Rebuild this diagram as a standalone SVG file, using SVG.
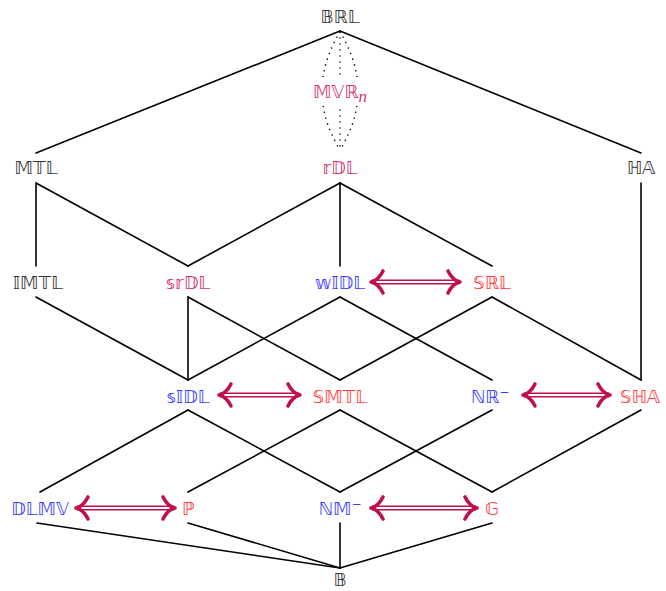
<svg xmlns="http://www.w3.org/2000/svg" width="666" height="591" viewBox="0 0 666 591">
  <style>
    .edge { fill: none; stroke: #000; stroke-width: 1.6; stroke-linecap: round; }
    .dots { fill: none; stroke: #000; stroke-width: 1.6; stroke-linecap: round; stroke-dasharray: 0 6; }
    .lbl { font-family: "DejaVu Sans", "Noto Sans", sans-serif; font-size: 18px; text-anchor: middle; }
    .k { fill: #333333; }
    .b { fill: #3C3CFF; }
    .r { fill: #FF3A3A; }
    .m { fill: #D4346C; }
    .sup { font-size: 12px; }
    .it { font-family: "Liberation Serif", serif; font-style: italic; font-size: 17px; }
    .shaft { fill: none; stroke: #C0104A; stroke-width: 5.2; }
    .gap { fill: none; stroke: #fff; stroke-width: 1.8; }
    .head { fill: none; stroke: #C0104A; stroke-width: 3.6; stroke-linecap: round; stroke-linejoin: round; }
  </style>

  <g id="connectors">
    <!-- dotted lens between BRL and rDL -->
    <path class="dots" d="M340,32 Q304,91 340,150"/>
    <path class="dots" d="M340,32 L340,150"/>
    <path class="dots" d="M340,32 Q376,91 340,150"/>

    <path class="edge" d="M340,31 L36,153"/>
    <path class="edge" d="M340,31 L641,153"/>
    <path class="edge" d="M36,183 L36,266"/>
    <path class="edge" d="M36,183 L188,266"/>
    <path class="edge" d="M340,183 L188,266"/>
    <path class="edge" d="M340,183 L340,266"/>
    <path class="edge" d="M340,183 L492,266"/>
    <path class="edge" d="M641,183 L641,380"/>

    <path class="edge" d="M36,297 L188,380"/>
    <path class="edge" d="M188,297 L188,380"/>
    <path class="edge" d="M188,297 L340,380"/>
    <path class="edge" d="M340,297 L188,380"/>
    <path class="edge" d="M340,297 L492,380"/>
    <path class="edge" d="M492,297 L340,380"/>
    <path class="edge" d="M492,297 L641,380"/>

    <path class="edge" d="M188,410 L40,492"/>
    <path class="edge" d="M188,410 L340,492"/>
    <path class="edge" d="M340,410 L188,492"/>
    <path class="edge" d="M340,410 L492,492"/>
    <path class="edge" d="M492,410 L340,492"/>
    <path class="edge" d="M641,410 L492,492"/>

    <path class="edge" d="M37,523 L340,568"/>
    <path class="edge" d="M188,523 L340,568"/>
    <path class="edge" d="M340,523 L340,568"/>
    <path class="edge" d="M492,523 L340,568"/>

    <!-- double-line equivalence arrows -->
    <g id="eq-wIDL-SRL">
      <path class="shaft" d="M372,282 L459,282"/>
      <path class="gap" d="M376,282 L455,282"/>
      <path class="head" d="M383,271 C380,277 376,281 371,282 C376,283 380,287 383,293"/>
      <path class="head" d="M448,271 C451,277 455,281 460,282 C455,283 451,287 448,293"/>
    </g>
    <g id="eq-sIDL-SMTL">
      <path class="shaft" d="M220,395 L299,395"/>
      <path class="gap" d="M224,395 L295,395"/>
      <path class="head" d="M231,384 C228,390 224,394 219,395 C224,396 228,400 231,406"/>
      <path class="head" d="M288,384 C291,390 295,394 300,395 C295,396 291,400 288,406"/>
    </g>
    <g id="eq-NR-SHA">
      <path class="shaft" d="M524,395 L609,395"/>
      <path class="gap" d="M528,395 L605,395"/>
      <path class="head" d="M535,384 C532,390 528,394 523,395 C528,396 532,400 535,406"/>
      <path class="head" d="M598,384 C601,390 605,394 610,395 C605,396 601,400 598,406"/>
    </g>
    <g id="eq-DLMV-P">
      <path class="shaft" d="M77,508 L174,508"/>
      <path class="gap" d="M81,508 L170,508"/>
      <path class="head" d="M88,497 C85,503 81,507 76,508 C81,509 85,513 88,519"/>
      <path class="head" d="M163,497 C166,503 170,507 175,508 C170,509 166,513 163,519"/>
    </g>
    <g id="eq-NM-G">
      <path class="shaft" d="M372,508 L476,508"/>
      <path class="gap" d="M376,508 L472,508"/>
      <path class="head" d="M383,497 C380,503 376,507 371,508 C376,509 380,513 383,519"/>
      <path class="head" d="M465,497 C468,503 472,507 477,508 C472,509 468,513 465,519"/>
    </g>
  </g>

  <g id="nodes">
    <g id="BRL"><text class="lbl k" x="340" y="23">𝔹ℝ𝕃</text></g>
    <g id="MVRn">
      <rect x="304" y="77" width="72" height="29" fill="#fff"/>
      <text class="lbl m" x="340" y="98">𝕄𝕍ℝ<tspan class="it" dy="4">n</tspan></text>
    </g>
    <g id="MTL"><text class="lbl k" x="36" y="174">𝕄𝕋𝕃</text></g>
    <g id="rDL"><text class="lbl m" x="340" y="174">𝕣𝔻𝕃</text></g>
    <g id="HA"><text class="lbl k" x="641" y="174">ℍ𝔸</text></g>

    <g id="IMTL"><text class="lbl k" x="38" y="289">𝕀𝕄𝕋𝕃</text></g>
    <g id="srDL"><text class="lbl m" x="188" y="289">𝕤𝕣𝔻𝕃</text></g>
    <g id="wIDL"><text class="lbl b" x="340" y="289">𝕨𝕀𝔻𝕃</text></g>
    <g id="SRL"><text class="lbl r" x="492" y="289">𝕊ℝ𝕃</text></g>

    <g id="sIDL"><text class="lbl b" x="188" y="403">𝕤𝕀𝔻𝕃</text></g>
    <g id="SMTL"><text class="lbl r" x="340" y="403">𝕊𝕄𝕋𝕃</text></g>
    <g id="NR"><text class="lbl b" x="490" y="403">ℕℝ<tspan class="sup" dy="-7">−</tspan></text></g>
    <g id="SHA"><text class="lbl r" x="640" y="403">𝕊ℍ𝔸</text></g>

    <g id="DLMV"><text class="lbl b" x="40" y="515">𝔻𝕃𝕄𝕍</text></g>
    <g id="P"><text class="lbl r" x="188" y="515">ℙ</text></g>
    <g id="NM"><text class="lbl b" x="340" y="515">ℕ𝕄<tspan class="sup" dy="-7">−</tspan></text></g>
    <g id="G"><text class="lbl r" x="492" y="515">𝔾</text></g>

    <g id="B"><text class="lbl k" x="340" y="586">𝔹</text></g>
  </g>
</svg>
